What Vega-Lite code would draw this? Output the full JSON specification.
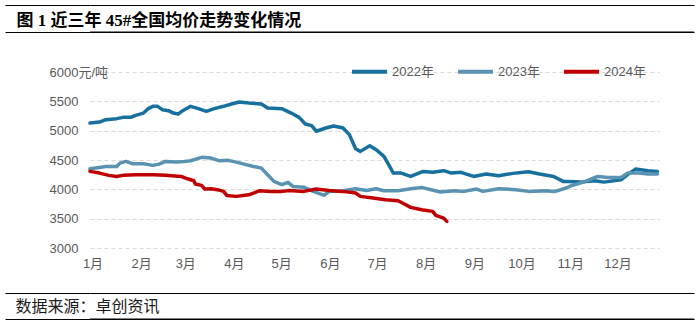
{
  "$schema": "https://vega.github.io/schema/vega-lite/v6.json",
  "background": "white",
  "padding": {"left": 4, "top": 4, "right": 0, "bottom": 0},
  "autosize": {"type": "pad"},
  "bounds": "flush",
  "spacing": 40,
  "resolve": {"scale": {"color": "independent", "x": "independent", "y": "independent"}, "legend": {"color": "independent"}},
  "vconcat": [
    {
      "width": 604,
      "height": 27,
      "data": {"values": [{}]},
      "mark": {"type": "rule", "color": "#000000", "strokeWidth": 1},
      "encoding": {
        "y": {
          "datum": 0,
          "type": "quantitative",
          "scale": {"domain": [0, 27], "nice": false, "zero": false},
          "axis": {
            "values": [0, 27],
            "labels": false,
            "domain": false,
            "ticks": true,
            "tickSize": 85,
            "tickColor": "#000000",
            "tickWidth": 1,
            "grid": true,
            "gridColor": "#000000",
            "gridWidth": 1,
            "gridOpacity": 1,
            "title": "图 1  近三年 45#全国均价走势变化情况",
            "titleAngle": 0,
            "titleAlign": "left",
            "titleBaseline": "middle",
            "titleX": -74,
            "titleY": 15,
            "titleFont": "Liberation Serif, Noto Sans CJK SC",
            "titleFontSize": 17,
            "titleFontWeight": "bold",
            "titleColor": "#000000"
          }
        }
      }
    },
    {
      "width": 569,
      "height": 176,
      "data": {
        "values": [
          {"year": "2022年", "day": 0, "price": 5130}, {"year": "2022年", "day": 6, "price": 5147}, {"year": "2022年", "day": 10, "price": 5188}, {"year": "2022年", "day": 17, "price": 5205}, {"year": "2022年", "day": 21, "price": 5227}, {"year": "2022年", "day": 26, "price": 5227}, {"year": "2022年", "day": 29, "price": 5261}, {"year": "2022年", "day": 34, "price": 5300}, {"year": "2022年", "day": 37, "price": 5375}, {"year": "2022年", "day": 40, "price": 5415}, {"year": "2022年", "day": 43, "price": 5415}, {"year": "2022年", "day": 46, "price": 5358}, {"year": "2022年", "day": 50, "price": 5341}, {"year": "2022年", "day": 53, "price": 5300}, {"year": "2022年", "day": 56, "price": 5283}, {"year": "2022年", "day": 59, "price": 5341}, {"year": "2022年", "day": 64, "price": 5415}, {"year": "2022年", "day": 69, "price": 5375}, {"year": "2022年", "day": 74, "price": 5330}, {"year": "2022年", "day": 79, "price": 5375}, {"year": "2022年", "day": 85, "price": 5415}, {"year": "2022年", "day": 90, "price": 5455}, {"year": "2022年", "day": 95, "price": 5488}, {"year": "2022年", "day": 101, "price": 5471}, {"year": "2022年", "day": 109, "price": 5455}, {"year": "2022年", "day": 113, "price": 5386}, {"year": "2022年", "day": 122, "price": 5375}, {"year": "2022年", "day": 128, "price": 5300}, {"year": "2022年", "day": 133, "price": 5227}, {"year": "2022年", "day": 137, "price": 5113}, {"year": "2022年", "day": 141, "price": 5085}, {"year": "2022年", "day": 144, "price": 4990}, {"year": "2022年", "day": 150, "price": 5045}, {"year": "2022年", "day": 155, "price": 5080}, {"year": "2022年", "day": 161, "price": 5045}, {"year": "2022年", "day": 165, "price": 4932}, {"year": "2022年", "day": 169, "price": 4693}, {"year": "2022年", "day": 172, "price": 4647}, {"year": "2022年", "day": 178, "price": 4744}, {"year": "2022年", "day": 182, "price": 4676}, {"year": "2022年", "day": 187, "price": 4562}, {"year": "2022年", "day": 190, "price": 4420}, {"year": "2022年", "day": 193, "price": 4277}, {"year": "2022年", "day": 198, "price": 4277}, {"year": "2022年", "day": 204, "price": 4220}, {"year": "2022年", "day": 212, "price": 4305}, {"year": "2022年", "day": 218, "price": 4290}, {"year": "2022年", "day": 225, "price": 4318}, {"year": "2022年", "day": 230, "price": 4277}, {"year": "2022年", "day": 236, "price": 4290}, {"year": "2022年", "day": 244, "price": 4220}, {"year": "2022年", "day": 252, "price": 4260}, {"year": "2022年", "day": 260, "price": 4232}, {"year": "2022年", "day": 269, "price": 4272}, {"year": "2022年", "day": 279, "price": 4300}, {"year": "2022年", "day": 286, "price": 4260}, {"year": "2022年", "day": 295, "price": 4220}, {"year": "2022年", "day": 301, "price": 4135}, {"year": "2022年", "day": 304, "price": 4135}, {"year": "2022年", "day": 312, "price": 4123}, {"year": "2022年", "day": 321, "price": 4147}, {"year": "2022年", "day": 327, "price": 4123}, {"year": "2022年", "day": 338, "price": 4165}, {"year": "2022年", "day": 342, "price": 4250}, {"year": "2022年", "day": 347, "price": 4345}, {"year": "2022年", "day": 355, "price": 4318}, {"year": "2022年", "day": 361, "price": 4306},
          {"year": "2023年", "day": 0, "price": 4352}, {"year": "2023年", "day": 6, "price": 4374}, {"year": "2023年", "day": 10, "price": 4390}, {"year": "2023年", "day": 17, "price": 4390}, {"year": "2023年", "day": 19, "price": 4447}, {"year": "2023年", "day": 23, "price": 4476}, {"year": "2023年", "day": 27, "price": 4437}, {"year": "2023年", "day": 34, "price": 4437}, {"year": "2023年", "day": 40, "price": 4408}, {"year": "2023年", "day": 44, "price": 4430}, {"year": "2023年", "day": 48, "price": 4476}, {"year": "2023年", "day": 55, "price": 4464}, {"year": "2023年", "day": 60, "price": 4476}, {"year": "2023年", "day": 64, "price": 4488}, {"year": "2023年", "day": 71, "price": 4545}, {"year": "2023年", "day": 77, "price": 4533}, {"year": "2023年", "day": 82, "price": 4488}, {"year": "2023年", "day": 88, "price": 4494}, {"year": "2023年", "day": 93, "price": 4464}, {"year": "2023年", "day": 98, "price": 4430}, {"year": "2023年", "day": 104, "price": 4390}, {"year": "2023年", "day": 109, "price": 4362}, {"year": "2023年", "day": 113, "price": 4250}, {"year": "2023年", "day": 117, "price": 4135}, {"year": "2023年", "day": 122, "price": 4080}, {"year": "2023年", "day": 126, "price": 4120}, {"year": "2023年", "day": 129, "price": 4050}, {"year": "2023年", "day": 136, "price": 4037}, {"year": "2023年", "day": 142, "price": 3965}, {"year": "2023年", "day": 149, "price": 3896}, {"year": "2023年", "day": 152, "price": 3965}, {"year": "2023年", "day": 161, "price": 3977}, {"year": "2023年", "day": 169, "price": 4010}, {"year": "2023年", "day": 176, "price": 3980}, {"year": "2023年", "day": 182, "price": 4010}, {"year": "2023年", "day": 187, "price": 3977}, {"year": "2023年", "day": 196, "price": 3977}, {"year": "2023年", "day": 204, "price": 4010}, {"year": "2023年", "day": 211, "price": 4033}, {"year": "2023年", "day": 217, "price": 3994}, {"year": "2023年", "day": 223, "price": 3954}, {"year": "2023年", "day": 232, "price": 3977}, {"year": "2023年", "day": 238, "price": 3965}, {"year": "2023年", "day": 246, "price": 4005}, {"year": "2023年", "day": 250, "price": 3965}, {"year": "2023年", "day": 260, "price": 4010}, {"year": "2023年", "day": 271, "price": 3994}, {"year": "2023年", "day": 279, "price": 3965}, {"year": "2023年", "day": 290, "price": 3977}, {"year": "2023年", "day": 296, "price": 3965}, {"year": "2023年", "day": 303, "price": 4022}, {"year": "2023年", "day": 306, "price": 4062}, {"year": "2023年", "day": 314, "price": 4123}, {"year": "2023年", "day": 323, "price": 4220}, {"year": "2023年", "day": 330, "price": 4203}, {"year": "2023年", "day": 338, "price": 4203}, {"year": "2023年", "day": 342, "price": 4277}, {"year": "2023年", "day": 349, "price": 4277}, {"year": "2023年", "day": 355, "price": 4260}, {"year": "2023年", "day": 361, "price": 4260},
          {"year": "2024年", "day": 0, "price": 4306}, {"year": "2024年", "day": 6, "price": 4277}, {"year": "2024年", "day": 12, "price": 4238}, {"year": "2024年", "day": 17, "price": 4220}, {"year": "2024年", "day": 21, "price": 4238}, {"year": "2024年", "day": 29, "price": 4250}, {"year": "2024年", "day": 40, "price": 4250}, {"year": "2024年", "day": 48, "price": 4238}, {"year": "2024年", "day": 58, "price": 4220}, {"year": "2024年", "day": 62, "price": 4180}, {"year": "2024年", "day": 66, "price": 4147}, {"year": "2024年", "day": 67, "price": 4090}, {"year": "2024年", "day": 71, "price": 4068}, {"year": "2024年", "day": 73, "price": 4005}, {"year": "2024年", "day": 77, "price": 4010}, {"year": "2024年", "day": 81, "price": 3994}, {"year": "2024年", "day": 85, "price": 3965}, {"year": "2024年", "day": 87, "price": 3896}, {"year": "2024年", "day": 93, "price": 3880}, {"year": "2024年", "day": 101, "price": 3907}, {"year": "2024年", "day": 104, "price": 3937}, {"year": "2024年", "day": 108, "price": 3977}, {"year": "2024年", "day": 115, "price": 3965}, {"year": "2024年", "day": 122, "price": 3965}, {"year": "2024年", "day": 127, "price": 3982}, {"year": "2024年", "day": 136, "price": 3965}, {"year": "2024年", "day": 144, "price": 4005}, {"year": "2024年", "day": 152, "price": 3982}, {"year": "2024年", "day": 161, "price": 3965}, {"year": "2024年", "day": 169, "price": 3937}, {"year": "2024年", "day": 172, "price": 3880}, {"year": "2024年", "day": 180, "price": 3852}, {"year": "2024年", "day": 188, "price": 3823}, {"year": "2024年", "day": 196, "price": 3806}, {"year": "2024年", "day": 200, "price": 3750}, {"year": "2024年", "day": 204, "price": 3692}, {"year": "2024年", "day": 211, "price": 3652}, {"year": "2024年", "day": 218, "price": 3624}, {"year": "2024年", "day": 220, "price": 3555}, {"year": "2024年", "day": 225, "price": 3510}, {"year": "2024年", "day": 227, "price": 3453}
        ]
      },
      "mark": {"type": "line", "strokeWidth": 3.5, "strokeJoin": "round", "strokeCap": "round"},
      "encoding": {
        "x": {
          "field": "day",
          "type": "quantitative",
          "scale": {"domain": [0, 362], "nice": false, "zero": false},
          "axis": {
            "values": [0, 31, 59, 90, 120, 151, 181, 212, 243, 273, 304, 334],
            "labelExpr": "(indexof([0, 31, 59, 90, 120, 151, 181, 212, 243, 273, 304, 334], datum.value) + 1) + '月'",
            "grid": false,
            "ticks": false,
            "domain": false,
            "labelPadding": 9,
            "labelOffset": 2.5,
            "labelFlush": false,
            "labelOverlap": false,
            "title": null
          }
        },
        "y": {
          "field": "price",
          "type": "quantitative",
          "scale": {"domain": [3000, 6000], "nice": false, "zero": false},
          "axis": {
            "values": [3000, 3500, 4000, 4500, 5000, 5500, 6000],
            "format": "d",
            "labelExpr": "datum.value == 6000 ? '6000元/吨' : datum.label",
            "labelAlign": "left",
            "labelPadding": 41,
            "grid": true,
            "gridColor": "#d9d9d9",
            "gridDash": [4, 3],
            "gridWidth": 1,
            "ticks": false,
            "domain": false,
            "title": null
          }
        },
        "color": {
          "field": "year",
          "type": "nominal",
          "scale": {"domain": ["2022年", "2023年", "2024年"], "range": ["#17709e", "#5a93b1", "#c00000"]},
          "legend": {
            "title": null,
            "orient": "none",
            "direction": "horizontal",
            "legendX": 260,
            "legendY": -20,
            "symbolType": "stroke",
            "symbolSize": 1225,
            "symbolStrokeWidth": 4,
            "labelOffset": 3,
            "columnPadding": 16,
            "labelFontSize": 13,
            "labelColor": "#595959"
          }
        }
      }
    },
    {
      "width": 604,
      "height": 31,
      "data": {"values": [{}]},
      "mark": {"type": "rule", "color": "#000000", "strokeWidth": 1},
      "encoding": {
        "y": {
          "datum": 0,
          "type": "quantitative",
          "scale": {"domain": [0, 31], "nice": false, "zero": false},
          "axis": {
            "values": [0, 26],
            "labels": false,
            "domain": false,
            "ticks": true,
            "tickSize": 85,
            "tickColor": "#000000",
            "tickWidth": 1,
            "grid": true,
            "gridColor": "#000000",
            "gridWidth": 1,
            "gridOpacity": 1,
            "title": "数据来源：卓创资讯",
            "titleAngle": 0,
            "titleAlign": "left",
            "titleBaseline": "middle",
            "titleX": -75,
            "titleY": 18,
            "titleFont": "Noto Sans CJK SC",
            "titleFontSize": 16,
            "titleFontWeight": "normal",
            "titleColor": "#1a1a1a"
          }
        }
      }
    }
  ],
  "config": {
    "view": {"stroke": null},
    "font": "Liberation Sans, Noto Sans CJK SC",
    "axis": {
      "labelFont": "Liberation Sans, Noto Sans CJK SC",
      "labelFontSize": 13,
      "labelColor": "#595959"
    },
    "legend": {
      "labelFont": "Liberation Sans, Noto Sans CJK SC"
    }
  }
}
